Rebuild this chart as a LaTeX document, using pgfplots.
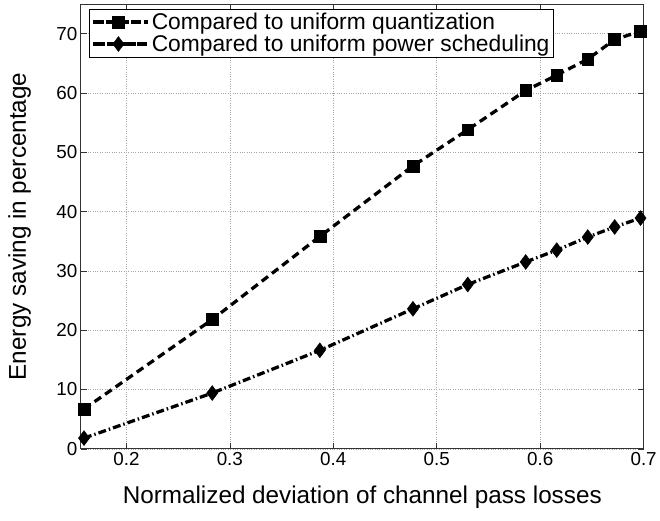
\documentclass[border=0pt]{standalone}
\usepackage{pgfplots}
\pgfplotsset{compat=1.18}
\usepackage{fontspec}
\setmainfont{Liberation Sans}
\begin{document}
\begin{tikzpicture}
\begin{axis}[
  name=main,
  scale only axis,
  width=568bp, height=449bp,
  xmin=0.156, xmax=0.7, ymin=0, ymax=75,
  xtick={0.2,0.3,0.4,0.5,0.6,0.7},
  ytick={0,10,20,30,40,50,60,70},
  xticklabels={0.2,0.3,0.4,0.5,0.6,0.7},
  /pgf/number format/assume math mode=true,
  tick label style={font=\fontsize{19bp}{21bp}\selectfont},
  label style={font=\fontsize{24.5bp}{28bp}\selectfont},
  xlabel={Normalized deviation of channel pass losses},
  ylabel={Energy saving in percentage},
  xlabel shift=14bp,
  ylabel shift=19bp,
  grid=major,
  major grid style={gray!70, dotted, line width=0.6pt},
  tick align=inside,
  major tick length=6bp,
  axis line style={black!80, line width=0.8pt},
  every tick/.style={black!80, line width=0.6pt},
  legend style={at={(0.014,0.989)}, anchor=north west, draw=black, line width=0.6pt,
    font=\fontsize{23bp}{27bp}\selectfont, inner sep=2bp, row sep=0bp},
  legend cell align=left,
  legend image code/.code={\draw[mark repeat=2,mark phase=2,#1] plot coordinates {(3bp,0bp)(26bp,0bp)(49bp,0bp)};\path (0bp,0bp) -- (56bp,0bp);},
]
\addplot[black, line width=3.3bp, dash pattern=on 8bp off 5bp, mark=square*, mark size=6bp, mark options={solid, line width=0.5bp}]
coordinates {(0.159,6.7)(0.283,21.8)(0.387,35.8)(0.477,47.7)(0.530,53.8)(0.586,60.4)(0.616,63.0)(0.646,65.7)(0.672,69.0)(0.697,70.4)};
\addlegendentry{Compared to uniform quantization}
\addplot[black, line width=3.3bp, dash pattern=on 8bp off 3bp on 1.5bp off 3bp, mark=diamond*, mark size=7.5bp, mark options={solid, line width=0.5bp}]
coordinates {(0.159,1.8)(0.283,9.4)(0.387,16.6)(0.477,23.6)(0.530,27.7)(0.586,31.5)(0.616,33.5)(0.646,35.7)(0.672,37.4)(0.697,38.9)};
\addlegendentry{Compared to uniform power scheduling}
\end{axis}
\path ([xshift=-5bp]main.outer west);
\path ([yshift=4bp]main.north);
\path ([yshift=-8bp]main.outer south);
\end{tikzpicture}
\end{document}
